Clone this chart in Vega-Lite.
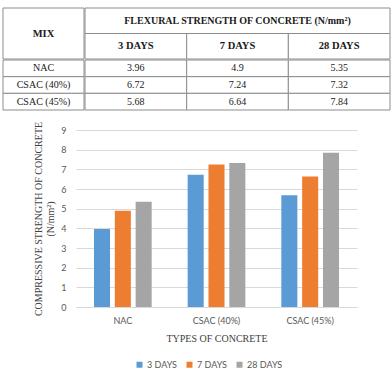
{
  "$schema": "https://vega.github.io/schema/vega-lite/v6.json",
  "padding": {"left": 2, "top": 7, "right": 3, "bottom": 0},
  "autosize": {"type": "pad"},
  "config": {"view": {"stroke": null}, "font": "Liberation Serif", "text": {"font": "Liberation Serif"}},
  "datasets": {
    "strength": [
      {"mix": "NAC", "days": "3 DAYS", "value": 3.96},
      {"mix": "NAC", "days": "7 DAYS", "value": 4.9},
      {"mix": "NAC", "days": "28 DAYS", "value": 5.35},
      {"mix": "CSAC (40%)", "days": "3 DAYS", "value": 6.72},
      {"mix": "CSAC (40%)", "days": "7 DAYS", "value": 7.24},
      {"mix": "CSAC (40%)", "days": "28 DAYS", "value": 7.32},
      {"mix": "CSAC (45%)", "days": "3 DAYS", "value": 5.68},
      {"mix": "CSAC (45%)", "days": "7 DAYS", "value": 6.64},
      {"mix": "CSAC (45%)", "days": "28 DAYS", "value": 7.84}
    ]
  },
  "spacing": 10,
  "resolve": {"legend": {"color": "independent"}, "scale": {"color": "independent", "x": "independent", "y": "independent"}},
  "vconcat": [
    {
      "spacing": -1,
      "vconcat": [
        {
          "spacing": -1,
          "hconcat": [
            {
              "width": 81,
              "height": 51,
              "data": {"values": [{"h": "MIX"}]},
              "layer": [
                {"mark": {"type": "rect", "fill": "white", "stroke": "#8c8c8c", "strokeWidth": 1}, "encoding": {}},
                {"mark": {"type": "text", "font": "Liberation Serif", "fontWeight": "bold", "fontSize": 10.5, "color": "#1a1a1a"}, "encoding": {"text": {"field": "h"}}}
              ]
            },
            {
              "width": 305,
              "height": 51,
              "layer": [
                {
                  "data": {"values": [{"t": "FLEXURAL STRENGTH OF CONCRETE (N/mm²)"}]},
                  "mark": {"type": "rect", "fill": "white", "stroke": "#8c8c8c", "strokeWidth": 1},
                  "encoding": {
                    "y": {"datum": "H1", "type": "nominal", "scale": {"domain": ["H1", "H2"], "paddingInner": 0, "paddingOuter": 0}, "axis": null}
                  }
                },
                {
                  "data": {"values": [{"t": "FLEXURAL STRENGTH OF CONCRETE (N/mm²)"}]},
                  "mark": {"type": "text", "font": "Liberation Serif", "fontWeight": "bold", "fontSize": 10, "color": "#1a1a1a"},
                  "encoding": {
                    "y": {"datum": "H1", "type": "nominal", "axis": null},
                    "text": {"field": "t"}
                  }
                },
                {
                  "data": {"name": "strength"},
                  "transform": [{"aggregate": [{"op": "count", "as": "n"}], "groupby": ["days"]}],
                  "mark": {"type": "rect", "fill": "white", "stroke": "#8c8c8c", "strokeWidth": 1},
                  "encoding": {
                    "x": {"field": "days", "type": "nominal", "scale": {"domain": ["3 DAYS", "7 DAYS", "28 DAYS"], "paddingInner": 0, "paddingOuter": 0}, "axis": null},
                    "y": {"datum": "H2", "type": "nominal", "axis": null}
                  }
                },
                {
                  "data": {"name": "strength"},
                  "transform": [{"aggregate": [{"op": "count", "as": "n"}], "groupby": ["days"]}],
                  "mark": {"type": "text", "font": "Liberation Serif", "fontWeight": "bold", "fontSize": 10.5, "color": "#1a1a1a"},
                  "encoding": {
                    "x": {"field": "days", "type": "nominal", "axis": null},
                    "y": {"datum": "H2", "type": "nominal", "axis": null},
                    "text": {"field": "days"}
                  }
                }
              ]
            }
          ]
        },
        {
          "spacing": -1,
          "hconcat": [
            {
              "width": 81,
              "height": 50,
              "data": {"name": "strength"},
              "transform": [{"aggregate": [{"op": "count", "as": "n"}], "groupby": ["mix"]}],
              "encoding": {
                "y": {"field": "mix", "type": "nominal", "scale": {"domain": ["NAC", "CSAC (40%)", "CSAC (45%)"], "paddingInner": 0, "paddingOuter": 0}, "axis": null}
              },
              "layer": [
                {"mark": {"type": "rect", "fill": "white", "stroke": "#8c8c8c", "strokeWidth": 1}},
                {"mark": {"type": "text", "font": "Liberation Serif", "fontSize": 10, "color": "#1a1a1a"}, "encoding": {"text": {"field": "mix"}}}
              ]
            },
            {
              "width": 305,
              "height": 50,
              "data": {"name": "strength"},
              "encoding": {
                "x": {"field": "days", "type": "nominal", "scale": {"domain": ["3 DAYS", "7 DAYS", "28 DAYS"], "paddingInner": 0, "paddingOuter": 0}, "axis": null},
                "y": {"field": "mix", "type": "nominal", "scale": {"domain": ["NAC", "CSAC (40%)", "CSAC (45%)"], "paddingInner": 0, "paddingOuter": 0}, "axis": null}
              },
              "layer": [
                {"mark": {"type": "rect", "fill": "white", "stroke": "#8c8c8c", "strokeWidth": 1}},
                {"mark": {"type": "text", "font": "Liberation Serif", "fontSize": 10, "color": "#1a1a1a"}, "encoding": {"text": {"field": "value", "type": "quantitative"}}}
              ]
            }
          ]
        }
      ]
    },
    {
      "spacing": 0,
      "hconcat": [
        {
          "width": 30,
          "height": 177,
          "data": {"values": []},
          "mark": {"type": "text"},
          "encoding": {}
        },
        {
          "width": 281,
          "height": 177,
          "data": {"name": "strength"},
          "mark": {"type": "bar"},
          "encoding": {
            "x": {
              "field": "mix", "type": "nominal",
              "sort": ["NAC", "CSAC (40%)", "CSAC (45%)"],
              "scale": {"paddingInner": 0.384, "paddingOuter": 0.192},
              "axis": {
                "title": "TYPES OF CONCRETE",
                "titleFont": "Liberation Serif", "titleFontWeight": "normal", "titleFontSize": 10, "titleColor": "#404040", "titlePadding": 8,
                "labelAngle": 0, "labelFont": "Lato", "labelFontSize": 9, "labelColor": "#595959", "labelPadding": 9,
                "ticks": false, "tickSize": 0, "domainColor": "#D9D9D9"
              }
            },
            "xOffset": {
              "field": "days", "type": "nominal",
              "sort": ["3 DAYS", "7 DAYS", "28 DAYS"],
              "scale": {"paddingInner": 0.23, "paddingOuter": 0}
            },
            "y": {
              "field": "value", "type": "quantitative",
              "scale": {"domain": [0, 9]},
              "axis": {
                "title": ["COMPRESSIVE STRENGTH OF CONCRETE", "(N/mm²)"],
                "titleFont": "Liberation Serif", "titleFontWeight": "normal", "titleFontSize": 10, "titleColor": "#404040", "titlePadding": 5,
                "values": [0, 1, 2, 3, 4, 5, 6, 7, 8, 9],
                "labelFont": "Lato", "labelFontSize": 9, "labelColor": "#595959", "labelPadding": 10,
                "ticks": false, "tickSize": 0, "domain": false, "gridColor": "#D9D9D9"
              }
            },
            "color": {
              "field": "days", "type": "nominal",
              "scale": {"domain": ["3 DAYS", "7 DAYS", "28 DAYS"], "range": ["#5B9BD5", "#ED7D31", "#A5A5A5"]},
              "legend": {
                "title": null, "orient": "none", "direction": "horizontal", "legendX": 132, "legendY": 230,
                "symbolType": "square", "symbolSize": 36, "symbolStrokeWidth": 0,
                "labelFont": "Lato", "labelFontSize": 9, "labelColor": "#595959", "labelOffset": 3, "columnPadding": 8
              }
            }
          }
        }
      ]
    }
  ]
}
